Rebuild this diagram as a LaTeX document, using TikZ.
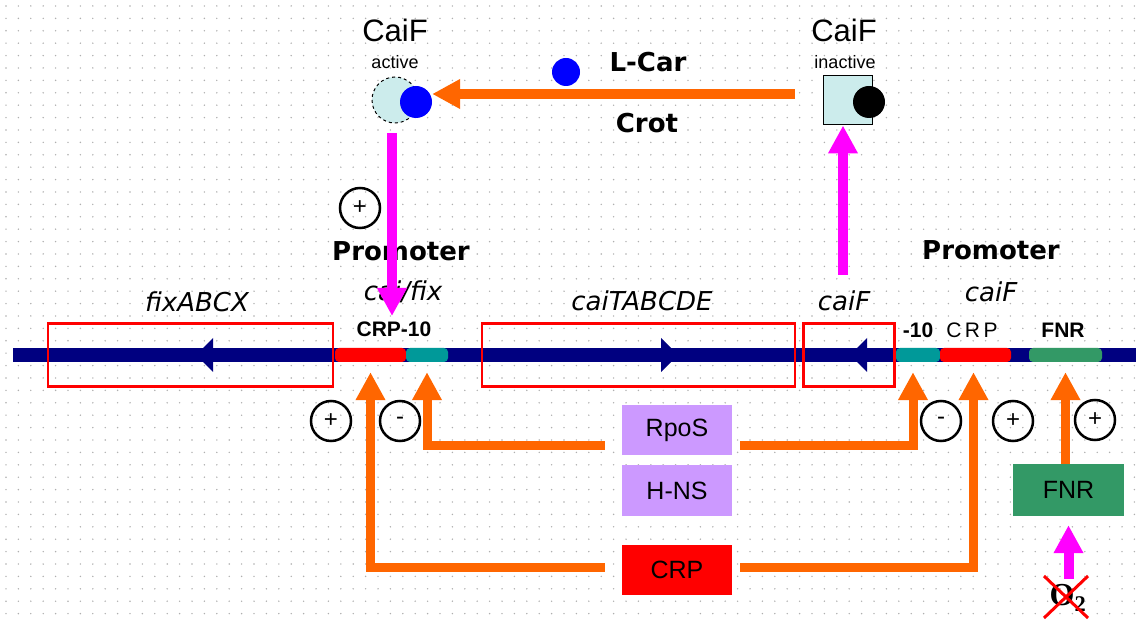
\documentclass[tikz,border=0pt]{standalone}
\usepackage{fontspec}
\setmainfont{Liberation Sans}
\newfontfamily\comic{DejaVu Sans}
\newfontfamily\timesf{Liberation Serif}
\usetikzlibrary{arrows.meta}
\definecolor{dna}{RGB}{0,0,128}
\definecolor{orng}{RGB}{255,102,0}
\definecolor{mag}{RGB}{255,0,255}
\definecolor{lav}{RGB}{204,153,255}
\definecolor{fnrg}{RGB}{51,153,102}
\definecolor{tealc}{RGB}{0,153,153}
\definecolor{cyanl}{RGB}{204,236,236}
\definecolor{dotc}{RGB}{175,175,175}
\tikzset{
  fs/.style={font=\fontsize{#1}{#1}\selectfont},
  orarrow/.style={draw=orng, line width=9pt, -{Triangle[width=28pt,length=28pt]}},
  magarrow/.style={draw=mag, line width=10pt, -{Triangle[width=28pt,length=28pt]}},
  genebox/.style={draw=red, line width=2.2pt, minimum height=63pt, inner sep=0pt},
  seg/.style={minimum height=14pt, inner sep=0pt, rounded corners=4pt},
  protbox/.style={minimum width=110pt, inner sep=0pt, fs=25},
  sign/.style={circle, draw=black, line width=2.5pt, minimum size=40pt, inner sep=0pt, fs=24},
  genelabel/.style={font=\comic\itshape\fontsize{26}{26}\selectfont},
  promlabel/.style={font=\comic\bfseries\fontsize{26}{26}\selectfont},
  sitelabel/.style={font=\bfseries\fontsize{21}{21}\selectfont},
}
\begin{document}
\begin{tikzpicture}[x=1pt,y=-1pt]
\useasboundingbox (0,0) rectangle (1136,620);
\fill[white] (0,0) rectangle (1136,620);
% dotted background grid
\foreach \i in {0,...,91} {
  \foreach \j in {0,...,49} {
    \fill[dotc] (6+\i*12.4, 6+\j*12.4) circle (0.8);
  }
}
% DNA line
\coordinate (dnaL) at (13,355);
\coordinate (dnaR) at (1136,355);
\draw[dna, line width=14pt] (dnaL) -- (dnaR);
% gene boxes
\node[genebox, minimum width=285pt] (fix) at (190.5,355) {};
\node[genebox, minimum width=313pt] (cait) at (638.5,355) {};
\node[genebox, minimum width=91pt] (caif) at (849,355) {};
% direction arrows inside genes
\fill[dna] (196,355) -- (213,338) -- (213,372) -- cycle;
\fill[dna] (678,355) -- (661,338) -- (661,372) -- cycle;
\fill[dna] (850,355) -- (867,338) -- (867,372) -- cycle;
% gene labels
\node[genelabel] (fixl) at (197,302) {fixABCX};
\node[genelabel] (caitl) at (642,301) {caiTABCDE};
\node[genelabel] (caifl) at (844,301) {caiF};
% promoter sites
\node[seg, fill=red, minimum width=71pt] (crpA) at (370.5,355) {};
\node[seg, fill=tealc, minimum width=42pt] (tealA) at (427,355) {};
\node[seg, fill=tealc, minimum width=44pt] (tealB) at (918,355) {};
\node[seg, fill=red, minimum width=71pt] (crpB) at (975.5,355) {};
\node[seg, fill=fnrg, minimum width=73pt] (fnrB) at (1065.5,355) {};
\node[sitelabel] (crp10) at (394,329) {CRP-10};
\node[sitelabel] (m10) at (918,330) {-10};
\node[font=\fontsize{21}{21}\selectfont] (crpBl) at (972,330) {C\,R\,P};
\node[sitelabel] (fnrl) at (1063,330) {FNR};
% promoter labels
\node[promlabel] (promA) at (401,251) {Promoter};
\node[genelabel] (promAs) at (403,292) {cai/fix};
\node[promlabel] (promB) at (991,250) {Promoter};
\node[genelabel] (promBs) at (991,292) {caiF};
% CaiF active / inactive
\node[fs=31] (caifA) at (395,30) {CaiF};
\node[fs=18] (actl) at (395,62) {active};
\node[circle, draw=black, dashed, line width=1pt, fill=cyanl, minimum size=46pt, inner sep=0pt] (actc) at (395,100) {};
\node[circle, fill=blue, minimum size=32pt, inner sep=0pt] (actd) at (416,102) {};
\node[fs=31] (caifI) at (844,30) {CaiF};
\node[fs=18] (inactl) at (845,62) {inactive};
\node[draw=black, line width=1pt, fill=cyanl, minimum size=49pt, inner sep=0pt] (inacts) at (848,100.5) {};
\node[circle, fill=black, minimum size=32pt, inner sep=0pt] (inactd) at (869,102) {};
% L-Car and Crot
\node[circle, fill=blue, minimum size=28pt, inner sep=0pt] (lcard) at (566,72) {};
\node[font=\comic\bfseries\fontsize{26}{26}\selectfont] (lcar) at (648,62) {L-Car};
\node[font=\comic\bfseries\fontsize{26}{26}\selectfont] (crot) at (647,123) {Crot};
\coordinate (topR) at (795,94);
\draw[draw=orng, line width=10pt, -{Triangle[width=28pt,length=28pt]}] (topR) -- (actd.east |- topR);
% magenta arrows
\coordinate (magUp) at (843,275);
\coordinate (magDn) at (392,133);
\coordinate (magDnEnd) at (392,316);
\draw[magarrow] (magUp) -- (magUp |- inacts.south);
\draw[magarrow] (magDn) -- (magDnEnd);
\node[sign] (plusTop) at (360,208) {+};
% regulator boxes
\node[protbox, fill=lav, minimum height=50pt] (rpos) at (677,430) {RpoS};
\node[protbox, fill=lav, minimum height=51pt] (hns) at (677,490.5) {H-NS};
\node[protbox, fill=red, minimum height=50pt] (crp) at (677,570) {CRP};
\node[fill=fnrg, minimum width=111pt, minimum height=52pt, inner sep=0pt, fs=25] (fnr) at (1068.5,490) {FNR};
% regulatory arrows
\draw[orarrow, shorten <=17pt, shorten >=10pt] ([yshift=-15pt]rpos.west) -| (tealA.south);
\draw[orarrow, shorten <=17pt, shorten >=10pt] ([yshift=3pt]crp.west) -| (crpA.south);
\draw[orarrow, shorten <=8pt, shorten >=10pt] ([yshift=-15pt]rpos.east) -| ([xshift=-5pt]tealB.south);
\draw[orarrow, shorten <=8pt, shorten >=10pt] ([yshift=3pt]crp.east) -| ([xshift=-2pt]crpB.south);
\draw[orarrow, shorten >=10pt] (fnr.north -| fnrB.south) -- (fnrB.south);
% signs
\node[sign] (sA1) at (331,421) {+};
\node[sign] (sA2) at (400,421) {-};
\node[sign] (sB1) at (941,421) {-};
\node[sign] (sB2) at (1013,421) {+};
\node[sign] (sB3) at (1095,420) {+};
% O2
\node[font=\timesf\bfseries\fontsize{32}{32}\selectfont, inner sep=0pt] (o2) at (1068,598) {O\textsubscript{2}};
\draw[magarrow, shorten <=5pt, shorten >=9pt] (o2.north -| fnr.south) -- (fnr.south);
\draw[red, line width=3pt] ([shift={(-24,-22)}]o2.center) -- ([shift={(20,20)}]o2.center);
\draw[red, line width=3pt] ([shift={(20,-22)}]o2.center) -- ([shift={(-24,20)}]o2.center);
\end{tikzpicture}
\end{document}
